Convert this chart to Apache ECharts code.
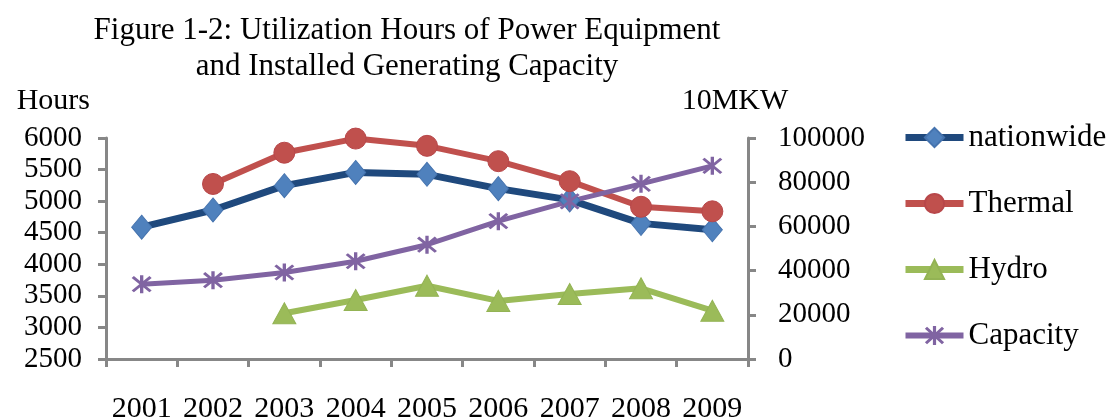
<!DOCTYPE html>
<html>
<head>
<meta charset="utf-8">
<script src="https://cdn.jsdelivr.net/npm/echarts@6/dist/echarts.min.js"></script>
<style>
html,body{margin:0;padding:0;background:#fff;}
#chart{width:1107px;height:420px;}
</style>
</head>
<body>
<div id="chart"></div>
<script>
var years = ['2001','2002','2003','2004','2005','2006','2007','2008','2009'];
var nationwide = [4588, 4860, 5245, 5455, 5425, 5198, 5020, 4648, 4546];
var thermal = [null, 5272, 5767, 5991, 5876, 5633, 5316, 4911, 4839];
var hydro = [null, null, 3224, 3434, 3661, 3420, 3530, 3620, 3265];
var capacity = [33849, 35657, 39141, 44239, 51718, 62370, 71329, 79253, 87407];
var leftTicks = {min: 2500, max: 6000, interval: 500};
var rightTicks = {min: 0, max: 100000, interval: 20000};

var FONT = '"Liberation Serif", "Times New Roman", serif';
var FS = 29;
var axisColor = '#878787';
var starPath = 'path://M8.5 0L11.5 0L11.5 20L8.5 20Z M1 3L3 1L19 17L17 19Z M17 1L19 3L3 19L1 17Z';
var plain = function (v) { return String(v); };

var chart = echarts.init(document.getElementById('chart'));
chart.setOption({
  animation: false,
  backgroundColor: '#ffffff',
  textStyle: {fontFamily: FONT, color: '#000'},
  title: {
    text: 'Figure 1-2: Utilization Hours of Power Equipment\nand Installed Generating Capacity',
    left: 402, top: 8, textAlign: 'center',
    textStyle: {fontFamily: FONT, fontSize: 31, fontWeight: 'normal', color: '#000', lineHeight: 36}
  },
  legend: {
    orient: 'vertical', left: 902, top: 122, itemGap: 35, padding: 0,
    itemWidth: 58, itemHeight: 24,
    textStyle: {fontFamily: FONT, fontSize: 31, color: '#000'},
    data: [
      {name: 'nationwide', lineStyle: {width: 7}},
      {name: 'Thermal', lineStyle: {width: 7}},
      {name: 'Hydro', lineStyle: {width: 7}},
      {name: 'Capacity', lineStyle: {width: 6}}
    ]
  },
  grid: {left: 106, right: 359, top: 138, bottom: 61, containLabel: false, outerBoundsMode: 'none'},
  xAxis: {
    type: 'category', data: years, boundaryGap: true,
    axisLine: {lineStyle: {color: axisColor, width: 3}},
    axisTick: {show: true, length: 8, interval: 0, lineStyle: {color: axisColor, width: 3}},
    axisLabel: {interval: 0, margin: 35, fontFamily: FONT, fontSize: 30, color: '#000'},
    splitLine: {show: false}
  },
  yAxis: [{
    type: 'value', position: 'left',
    min: leftTicks.min, max: leftTicks.max, interval: leftTicks.interval,
    name: 'Hours', nameLocation: 'end', nameGap: 22,
    nameTextStyle: {fontFamily: FONT, fontSize: 30, color: '#000', align: 'right', verticalAlign: 'bottom', padding: [0, 16, 0, 0]},
    axisLine: {show: true, lineStyle: {color: axisColor, width: 3}},
    axisTick: {show: true, length: 8, lineStyle: {color: axisColor, width: 3}},
    axisLabel: {margin: 24, fontFamily: FONT, fontSize: FS, color: '#000', formatter: plain},
    splitLine: {show: false}
  }, {
    type: 'value', position: 'right',
    min: rightTicks.min, max: rightTicks.max, interval: rightTicks.interval,
    name: '10MKW', nameLocation: 'end', nameGap: 22,
    nameTextStyle: {fontFamily: FONT, fontSize: 30, color: '#000', align: 'center', verticalAlign: 'bottom', padding: [0, 26, 0, 0]},
    axisLine: {show: true, lineStyle: {color: axisColor, width: 3}},
    axisTick: {show: true, length: 8, lineStyle: {color: axisColor, width: 3}},
    axisLabel: {margin: 30, fontFamily: FONT, fontSize: FS, color: '#000', formatter: plain},
    splitLine: {show: false}
  }],
  series: [{
    name: 'nationwide', type: 'line', yAxisIndex: 0, data: nationwide,
    symbol: 'diamond', symbolSize: [20, 24],
    lineStyle: {color: '#1F497D', width: 7},
    itemStyle: {color: '#4F81BD', borderColor: '#4573AE', borderWidth: 1}
  }, {
    name: 'Thermal', type: 'line', yAxisIndex: 0, data: thermal,
    symbol: 'circle', symbolSize: 21,
    lineStyle: {color: '#C0504D', width: 6},
    itemStyle: {color: '#C0504D', borderColor: '#B8474A', borderWidth: 1}
  }, {
    name: 'Hydro', type: 'line', yAxisIndex: 0, data: hydro,
    symbol: 'triangle', symbolSize: [23, 21],
    lineStyle: {color: '#9BBB59', width: 6},
    itemStyle: {color: '#9BBB59', borderColor: '#93B354', borderWidth: 1}
  }, {
    name: 'Capacity', type: 'line', yAxisIndex: 1, data: capacity,
    symbol: starPath, symbolSize: [20, 18],
    lineStyle: {color: '#8064A2', width: 5},
    itemStyle: {color: '#8064A2'}
  }]
});
</script>
</body>
</html>
